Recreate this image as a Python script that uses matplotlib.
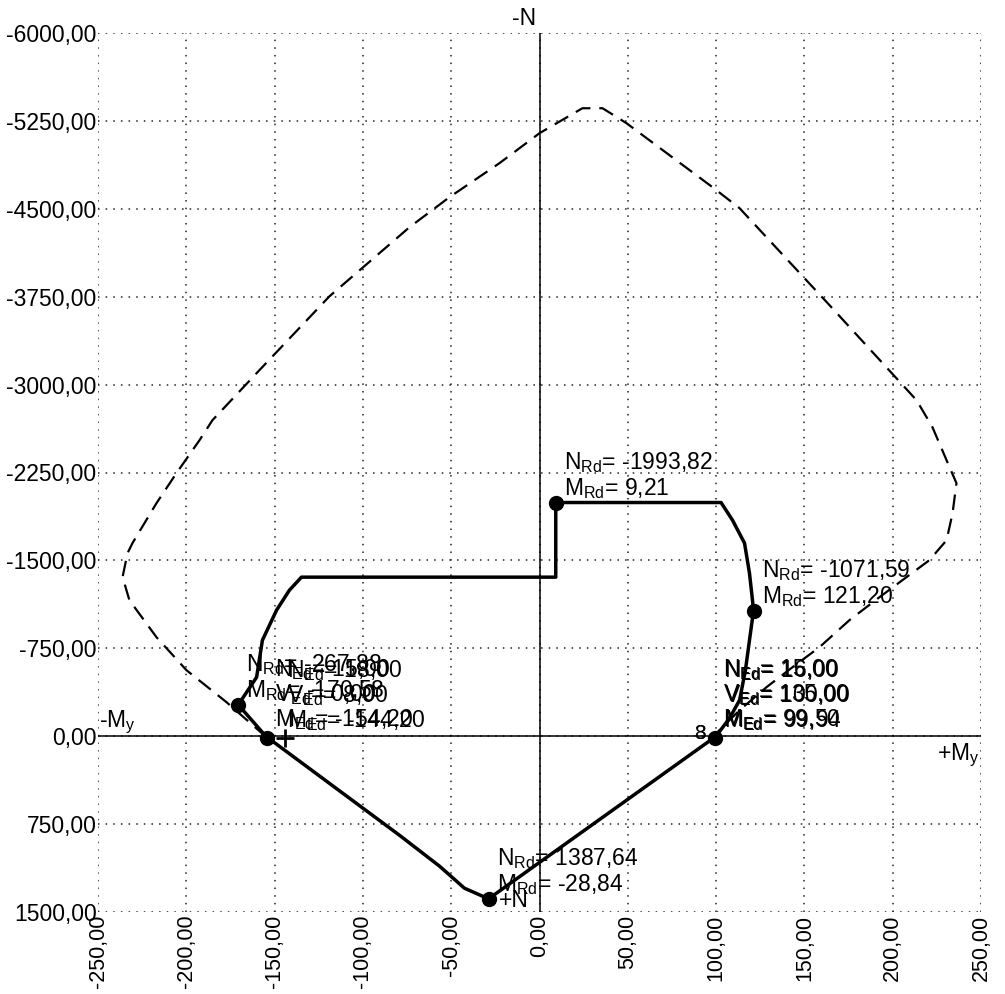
import matplotlib
matplotlib.use("Agg")
import matplotlib.pyplot as plt
import numpy as np

plt.rcParams['font.family'] = ['Liberation Sans', 'DejaVu Sans']
plt.rcParams['mathtext.fontset'] = 'custom'
plt.rcParams['mathtext.rm'] = 'Liberation Sans'
plt.rcParams['mathtext.it'] = 'Liberation Sans:italic'
plt.rcParams['mathtext.default'] = 'regular'

# outer interaction curve (dashed), My [kNm] / N [kN]
outer_m = [-154.6, -177.2, -199.9, -216.9, -232.2, -236.1, -233.3, -230.5, -216.9, -205.6,
           -192.5, -185.2, -158.6, -118.9, -73.6, -51.0, -22.7, 0.0, 24.3, 35.7, 49.3,
           98.0, 113.3, 164.2, 213.5, 222.5, 232.2, 236.1, 233.9, 230.5, 220.8, 207.8,
           192.5, 175.5, 158.5, 143.3, 128.5, 113.3, 100.2, 99.7]
outer_n = [9, -290, -563, -845, -1160, -1357, -1561, -1647, -1988, -2244,
           -2526, -2696, -3123, -3754, -4343, -4599, -4889, -5145, -5358, -5358, -5230,
           -4684, -4505, -3678, -2867, -2637, -2295, -2159, -1903, -1672, -1502, -1357,
           -1186, -990, -759, -589, -418, -222, -26, 0]

# design resistance curve (solid)
curve_m = [-170.58, -160.2, -156.9, -148.9, -141.6, -134.8, 9.21, 9.21, 102.8, 109.3,
           116.1, 118.9, 120.6, 121.20, 118.9, 116.6, 113.3, 107.6, 100.0, -28.84,
           -42.5, -56.6, -79.3, -155.0, -170.58]
curve_n = [-267.88, -503, -819, -1075, -1246, -1357, -1357, -1993.82, -1993.82, -1843,
           -1647, -1391, -1160, -1071.59, -819, -563, -307, -154, 0, 1387.64,
           1297, 1109, 845, 0, -267.88]

# resistance points with labels
rd_m = [9.21, 121.20, -28.84, -170.58]
rd_n = [-1993.82, -1071.59, 1387.64, -267.88]

# design forces
ed_dot_m = [-154.20, 99.50]
ed_dot_n = [15.00, 15.00]
ed_plus_m = [-144.20, 99.94]
ed_plus_n = [18.00, 16.00]
ed_v = [[0.00, 8.00], [135.00, 100.00]]
combo_ids = ['3', '8']

x_ticks = np.arange(-250, 251, 50)
y_ticks = np.arange(-6000, 1501, 750)

FS = 16.5


def fmt(v):
    return f"{v:.2f}".replace('.', ',')


fig = plt.figure(figsize=(10.05, 9.94), dpi=100)
ax = fig.add_axes([98 / 1005, 82 / 994, 883 / 1005, 879 / 994])
ax.set_xlim(-250, 250)
ax.set_ylim(1500, -6000)
ax.set_xticks(x_ticks)
ax.set_yticks(y_ticks)
ax.set_xticklabels([fmt(v) for v in x_ticks], rotation=90, fontsize=15.5)
ax.set_yticklabels([fmt(v) for v in y_ticks], fontsize=FS)
ax.tick_params(length=0, pad=1)
ax.tick_params(axis='x', pad=2)
for s in ax.spines.values():
    s.set_visible(False)
ax.grid(True, color='#222222', linestyle=(0, (1, 4)), linewidth=1.1)
ax.set_axisbelow(True)

ax.axhline(0, color='black', lw=1.1)
ax.axvline(0, color='black', lw=1.1)

ax.plot(outer_m, outer_n, color='black', lw=1.6, linestyle=(0, (7, 4)))
ax.plot(curve_m, curve_n, color='black', lw=2.5, solid_joinstyle='round')

ax.plot(rd_m, rd_n, 'o', color='black', markersize=10)
ax.plot(ed_dot_m, ed_dot_n, 'o', color='black', markersize=10)
ax.plot(ed_plus_m[:1], ed_plus_n[:1], '+', color='black', markersize=13, mew=2)

for m, n in zip(rd_m, rd_n):
    ax.annotate(r"N$_{Rd}$= " + fmt(n), (m, n), xytext=(8, 40), textcoords='offset pixels',
                fontsize=FS, va='center', ha='left')
    ax.annotate(r"M$_{Rd}$= " + fmt(m), (m, n), xytext=(8, 14), textcoords='offset pixels',
                fontsize=FS, va='center', ha='left')

for i in range(2):
    for m, n, v, dx in [(ed_dot_m[i], ed_dot_n[i], ed_v[i][0], 8),
                        (ed_plus_m[i], ed_plus_n[i], ed_v[i][1], 2 if i == 0 else 8)]:
        for txt, dy in [(r"N$_{Ed}$= " + fmt(n), 68), (r"V$_{Ed}$= " + fmt(v), 43),
                        (r"M$_{Ed}$= " + fmt(m), 18)]:
            ax.annotate(txt, (m, n), xytext=(dx, dy), textcoords='offset pixels',
                        fontsize=FS, va='center', ha='left')

for cid in combo_ids:
    ax.annotate(cid, (ed_dot_m[1], ed_dot_n[1]), xytext=(-9, 4), textcoords='offset pixels',
                fontsize=15, va='center', ha='right')

ax.text(-1.7, -6126, "-N", fontsize=FS, ha='right', va='center')
ax.text(-23.2, 1400, "+N", fontsize=FS, ha='left', va='center')
ax.text(-249.2, -119, r"-M$_y$", fontsize=FS, ha='left', va='center')
ax.text(249, 162, r"+M$_y$", fontsize=FS, ha='right', va='center')

fig.savefig("out.png", dpi=100)
